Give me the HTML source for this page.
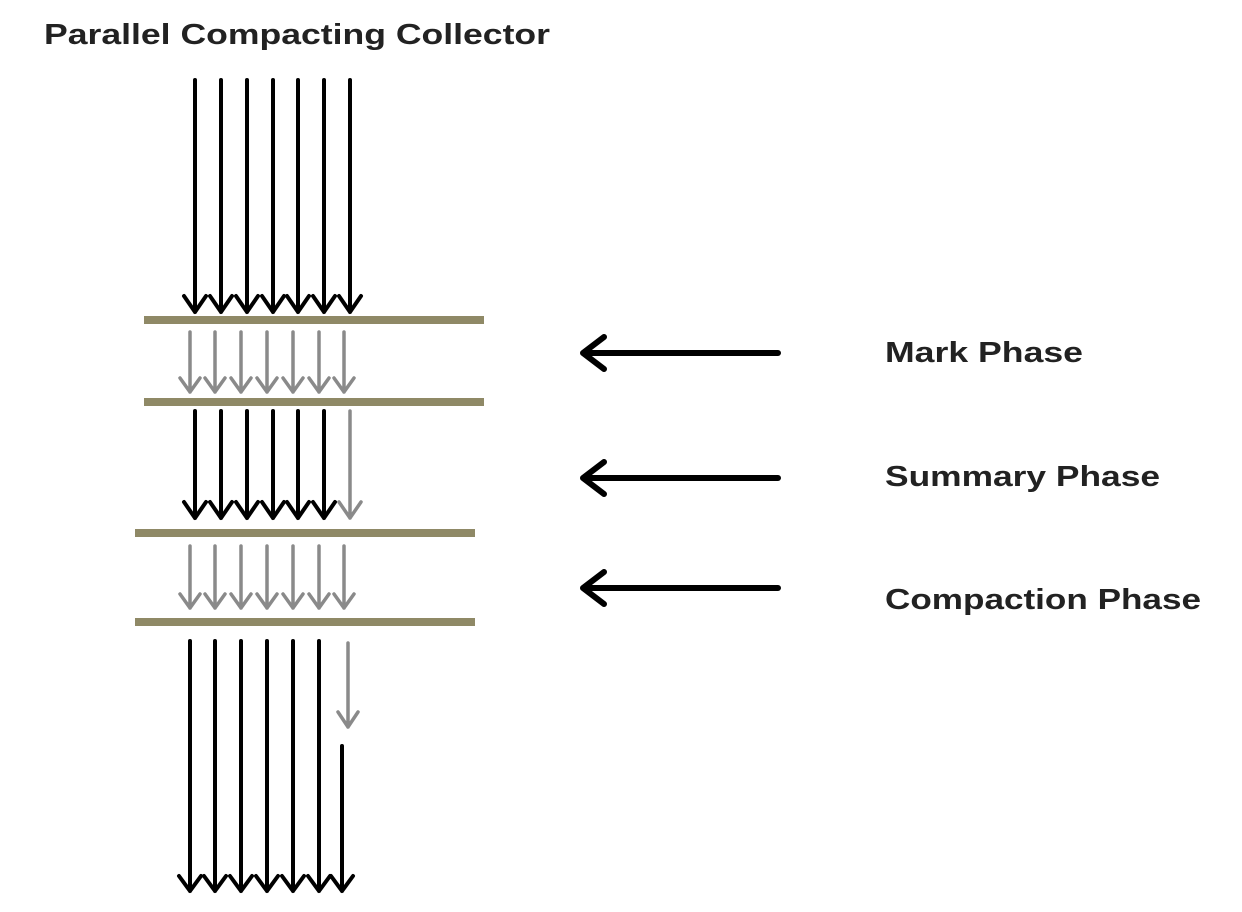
<!DOCTYPE html>
<html><head><meta charset="utf-8"><style>
html,body{margin:0;padding:0;background:#fff;}
svg{display:block}
text{font-family:"Liberation Sans",sans-serif;font-weight:bold;fill:#222;}
</style></head><body>
<svg width="1242" height="912" viewBox="0 0 1242 912" xmlns="http://www.w3.org/2000/svg">
<text x="44" y="44" font-size="29" textLength="506" lengthAdjust="spacingAndGlyphs">Parallel Compacting Collector</text>
<g fill="none" stroke-linecap="round" stroke-linejoin="round">
<!-- top black arrows -->
<g stroke="#000" stroke-width="4">
<path d="M195 80V312M184 296L195 312L206 296"/>
<path d="M221 80V312M210 296L221 312L232 296"/>
<path d="M247 80V312M236 296L247 312L258 296"/>
<path d="M273 80V312M262 296L273 312L284 296"/>
<path d="M298 80V312M287 296L298 312L309 296"/>
<path d="M324 80V312M313 296L324 312L335 296"/>
<path d="M350 80V312M339 296L350 312L361 296"/>
</g>
<!-- gray row 1 -->
<g stroke="#8a8a8a" stroke-width="3.5">
<path d="M190 332V392M180 378L190 392L200 378"/>
<path d="M215 332V392M205 378L215 392L225 378"/>
<path d="M241 332V392M231 378L241 392L251 378"/>
<path d="M267 332V392M257 378L267 392L277 378"/>
<path d="M293 332V392M283 378L293 392L303 378"/>
<path d="M319 332V392M309 378L319 392L329 378"/>
<path d="M344 332V392M334 378L344 392L354 378"/>
</g>
<!-- black row 2 -->
<g stroke="#000" stroke-width="4">
<path d="M195 411V518M184 502L195 518L206 502"/>
<path d="M221 411V518M210 502L221 518L232 502"/>
<path d="M247 411V518M236 502L247 518L258 502"/>
<path d="M273 411V518M262 502L273 518L284 502"/>
<path d="M298 411V518M287 502L298 518L309 502"/>
<path d="M324 411V518M313 502L324 518L335 502"/>
</g>
<path stroke="#8a8a8a" stroke-width="3.5" d="M350 411V518M339 502L350 518L361 502"/>
<!-- gray row 3 -->
<g stroke="#8a8a8a" stroke-width="3.5">
<path d="M190 546V608M180 594L190 608L200 594"/>
<path d="M215 546V608M205 594L215 608L225 594"/>
<path d="M241 546V608M231 594L241 608L251 594"/>
<path d="M267 546V608M257 594L267 608L277 594"/>
<path d="M293 546V608M283 594L293 608L303 594"/>
<path d="M319 546V608M309 594L319 608L329 594"/>
<path d="M344 546V608M334 594L344 608L354 594"/>
</g>
<!-- bottom -->
<g stroke="#000" stroke-width="4">
<path d="M190 641V891M179 876L190 891L201 876"/>
<path d="M215 641V891M204 876L215 891L226 876"/>
<path d="M241 641V891M230 876L241 891L252 876"/>
<path d="M267 641V891M256 876L267 891L278 876"/>
<path d="M293 641V891M282 876L293 891L304 876"/>
<path d="M319 641V891M308 876L319 891L330 876"/>
<path d="M342 746V891M331 876L342 891L353 876"/>
</g>
<path stroke="#8a8a8a" stroke-width="3.5" d="M348 643V727M338 712L348 727L358 712"/>
<!-- left arrows -->
<g stroke="#000" stroke-width="6">
<path d="M778 353H584M604 337L583 353L604 369"/>
<path d="M778 478H584M604 462L583 478L604 494"/>
<path d="M778 588H584M604 572L583 588L604 604"/>
</g>
</g>
<!-- bars -->
<g fill="#8f8966">
<rect x="144" y="316" width="340" height="8"/>
<rect x="144" y="398" width="340" height="8"/>
<rect x="135" y="529" width="340" height="8"/>
<rect x="135" y="618" width="340" height="8"/>
</g>
<text x="885" y="362" font-size="29" textLength="198" lengthAdjust="spacingAndGlyphs">Mark Phase</text>
<text x="885" y="486" font-size="29" textLength="275" lengthAdjust="spacingAndGlyphs">Summary Phase</text>
<text x="885" y="609" font-size="29" textLength="316" lengthAdjust="spacingAndGlyphs">Compaction Phase</text>
</svg>
</body></html>
